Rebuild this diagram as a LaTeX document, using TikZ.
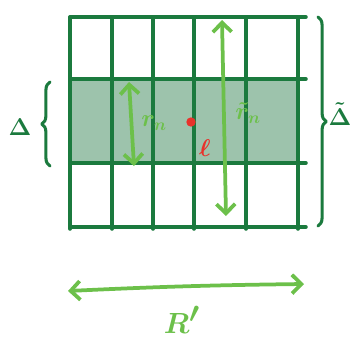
\documentclass[tikz,border=0pt]{standalone}
\usetikzlibrary{arrows.meta,decorations.pathreplacing}
\definecolor{gridgreen}{HTML}{1B7A3E}
\definecolor{lightarrow}{HTML}{6CC04A}
\definecolor{cellshade}{HTML}{9DC3AC}
\definecolor{dotred}{HTML}{E8322B}
\begin{document}
\begin{tikzpicture}[x=0.03cm,y=-0.03cm,line cap=round,line join=round,>={Straight Barb[length=8pt,width=16pt]},
		gridline/.style={gridgreen,line width=3pt},
		dimarrow/.style={lightarrow,line width=3.2pt,<->},
		bracket/.style={gridgreen,line width=2.6pt,decorate,decoration={brace,amplitude=7pt}},
		lbl/.style={font=\fontsize{22}{22}\selectfont\boldmath,inner sep=1pt}]
	\useasboundingbox (0,0) rectangle (360,353);
	% shaded strip
	\fill[cellshade] (70,79) rectangle (298,163);
	% grid
	\foreach \x in {70,112,153,194,246,298}{\draw[gridline] (\x,17) -- (\x,229);}
	\foreach \y in {17,79,163,227}{\draw[gridline] (70,\y) -- (306,\y);}
	% arrows
	\coordinate (rtop) at (129,82);
	\coordinate (rbot) at (134,166);
	\draw[dimarrow] (rtop) -- (rbot);
	\coordinate (Rtop) at (222,20);
	\coordinate (Rbot) at (226,216);
	\draw[dimarrow] (Rtop) -- (Rbot);
	\coordinate (bl) at (68,291);
	\coordinate (br) at (304,284);
	\draw[dimarrow] (bl) to[bend left=1] (br);
	% braces
	\coordinate (lb1) at (50,166);
	\coordinate (lb2) at (50,82);
	\draw[bracket] (lb1) -- (lb2);
	\coordinate (rb1) at (318,17);
	\coordinate (rb2) at (318,226);
	\draw[bracket] (rb1) -- (rb2);
	% labels
	\node[circle,fill=dotred,inner sep=0pt,minimum size=8pt] (q) at (191,122) {};
	\node[dotred,lbl] (ql) at (205,148) {$\ell$};
	\node[lightarrow,lbl] (rn) at (154,123) {$r_n$};
	\node[lightarrow,lbl] (rtn) at (248,113) {$\tilde r_n$};
	\node[gridgreen,lbl] (dl) at (20,127) {$\Delta$};
	\node[gridgreen,lbl] (dr) at (340,114) {$\tilde\Delta$};
	\node[lightarrow,font=\fontsize{36}{36}\selectfont\boldmath] (Rp) at (182,320) {$R'$};
\end{tikzpicture}
\end{document}
